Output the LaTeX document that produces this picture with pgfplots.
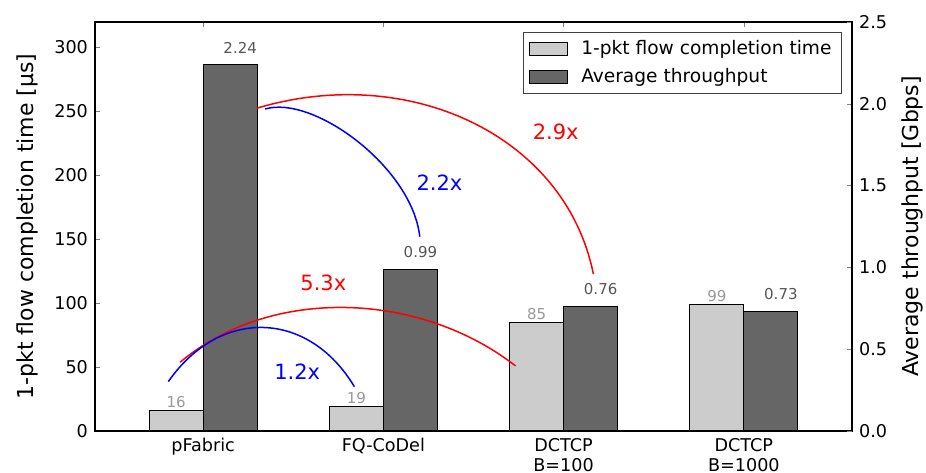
\documentclass[border=0pt]{standalone}
\usepackage{pgfplots}
\pgfplotsset{compat=1.18}
\usepackage{fontspec}
\setmainfont{DejaVu Sans}
\definecolor{lightbar}{HTML}{CCCCCC}
\definecolor{darkbar}{HTML}{666666}
\definecolor{lightlab}{HTML}{999999}
\definecolor{darklab}{HTML}{555555}
\begin{document}
\begin{tikzpicture}
\begin{axis}[
  name=ax,
  scale only axis, width=378.5pt, height=204.5pt,
  xmin=-0.6, xmax=3.6, ymin=0, ymax=320,
  xtick={0,1,2,3},
  xticklabels={pFabric, FQ-CoDel, {DCTCP\\B=100}, {DCTCP\\B=1000}},
  xticklabel style={align=center, font=\fontsize{8.8}{10}\selectfont},
  ytick={0,50,100,150,200,250,300}, ytick pos=left, yticklabel pos=left,
  yticklabel style={font=\fontsize{8.8}{10}\selectfont},
  /pgf/number format/assume math mode=true,
  tick align=inside, major tick length=2.5pt,
  axis line style={line width=0.6pt},
  ylabel={1-pkt flow completion time [µs]},
  ylabel style={at={(axis description cs:-0.0898,0.5)}, anchor=center, font=\fontsize{11}{13}\selectfont},
]
\addplot[ybar, bar width=0.3, bar shift=0pt, fill=lightbar, draw=black, line width=0.5pt,
  nodes near coords,
  nodes near coords style={font=\fontsize{7.5}{9}\selectfont, color=lightlab, anchor=south, inner sep=0pt, yshift=1.3pt}]
  coordinates {(-0.15,16) (0.85,19) (1.85,85) (2.85,99)};
\end{axis}
\begin{axis}[
  scale only axis, width=378.5pt, height=204.5pt,
  xmin=-0.6, xmax=3.6, ymin=0, ymax=2.5,
  hide x axis,
  ytick={0,0.5,1,1.5,2,2.5}, ytick pos=right, yticklabel pos=right,
  yticklabel style={/pgf/number format/.cd, fixed, fixed zerofill, precision=1, /tikz/.cd, font=\fontsize{8.8}{10}\selectfont},
  /pgf/number format/assume math mode=true,
  tick align=inside, major tick length=2.5pt,
  axis line style={line width=0.6pt},
  ylabel={Average throughput [Gbps]},
  ylabel style={at={(axis description cs:1.0793,0.5)}, anchor=center, font=\fontsize{11}{13}\selectfont},
  legend cell align=left,
  legend style={at={(axis description cs:0.9868,0.9756)}, anchor=north east,
    font=\fontsize{9.3}{11}\selectfont, draw=black!75, line width=0.5pt,
    inner xsep=3pt, inner ysep=2pt, row sep=1.5pt, column sep=4.5pt},
]
\addlegendimage{legend image code/.code={\draw[fill=lightbar,draw=black,line width=0.5pt] (0pt,-3.3pt) rectangle (19pt,3.3pt);}}
\addlegendentry{1-pkt flow completion time}
\addplot[ybar, bar width=0.3, bar shift=0pt, fill=darkbar, draw=black, line width=0.5pt,
  legend image code/.code={\draw[fill=darkbar,draw=black,line width=0.5pt] (0pt,-3.3pt) rectangle (19pt,3.3pt);},
  nodes near coords,
  nodes near coords style={font=\fontsize{7.5}{9}\selectfont, color=darklab, anchor=south, inner sep=0pt, yshift=5.5pt, xshift=5pt}]
  coordinates {(0.15,2.24) (1.15,0.99) (2.15,0.76) (3.15,0.73)};
\addlegendentry{Average throughput}
% annotation arcs
\draw[red, line width=0.75pt] (axis cs:0.298,1.973) .. controls (axis cs:1.15,2.253) and (axis cs:2.013,1.798) .. (axis cs:2.165,0.959);
\draw[blue, line width=0.75pt] (axis cs:0.344,1.968) .. controls (axis cs:0.611,2.056) and (axis cs:1.159,1.613) .. (axis cs:1.202,1.1875);
\draw[red, line width=0.75pt] (axis cs:-0.128,0.420) .. controls (axis cs:0.383,0.892) and (axis cs:1.208,0.848) .. (axis cs:1.733,0.398);
\draw[blue, line width=0.75pt] (axis cs:-0.193,0.302) .. controls (axis cs:0.092,0.754) and (axis cs:0.582,0.742) .. (axis cs:0.839,0.271);
\node[red, font=\fontsize{10.5}{12}\selectfont] at (axis cs:1.956,1.830) {2.9x};
\node[blue, font=\fontsize{10.5}{12}\selectfont] at (axis cs:1.311,1.516) {2.2x};
\node[red, font=\fontsize{10.5}{12}\selectfont] at (axis cs:0.667,0.905) {5.3x};
\node[blue, font=\fontsize{10.5}{12}\selectfont] at (axis cs:0.522,0.3625) {1.2x};
\end{axis}
\pgfresetboundingbox
\path ([xshift=-47.5pt,yshift=-21pt]ax.south west) rectangle ([xshift=37pt,yshift=11pt]ax.north east);
\end{tikzpicture}
\end{document}
